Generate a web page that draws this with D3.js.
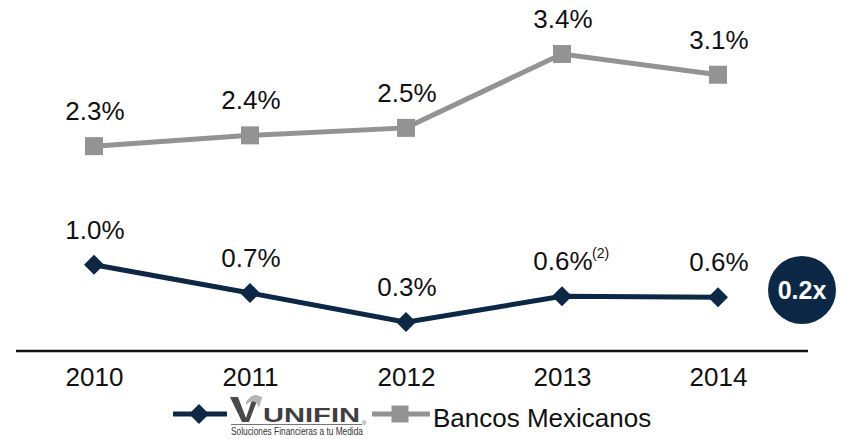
<!DOCTYPE html>
<html>
<head>
<meta charset="utf-8">
<script src="https://cdnjs.cloudflare.com/ajax/libs/d3/7.8.5/d3.min.js"></script>
<style>
  body { margin: 0; background: #fff; }
  text { font-family: Arial, "Liberation Sans", sans-serif; }
</style>
</head>
<body>
<div id="chart-area"></div>
<script>
// data
var years = ["2010", "2011", "2012", "2013", "2014"];
var unifin = [0.99, 0.65, 0.30, 0.61, 0.60];
var bancos = [2.42, 2.55, 2.64, 3.53, 3.28];
var unifinLabels = ["1.0%", "0.7%", "0.3%", "0.6%", "0.6%"];
var bancosLabels = ["2.3%", "2.4%", "2.5%", "3.4%", "3.1%"];

var width = 846, height = 439;
var navy = "#0c2846", grey = "#939393";

var svg = d3.select("#chart-area")
	.append("svg")
		.attr("width", width)
		.attr("height", height);

var x = d3.scalePoint()
	.domain(years)
	.range([94, 718]);

var y = d3.scaleLinear()
	.domain([0, 4])
	.range([347, 15]);

// baseline axis
var bottomAxis = d3.axisBottom(x).tickSize(0).tickPadding(17);
var ax = svg.append("g")
	.attr("class", "bottom axis")
	.attr("transform", "translate(0,351)")
	.call(bottomAxis);
ax.select(".domain").remove();
ax.append("line")
	.attr("x1", 16).attr("x2", 808)
	.attr("stroke", "#111").attr("stroke-width", 2.5);
ax.selectAll(".tick text")
	.attr("font-size", "26px")
	.attr("fill", "#111")
	.attr("font-family", "Arial, 'Liberation Sans', sans-serif");

var line = d3.line()
	.x(function(d, i){ return x(years[i]); })
	.y(function(d){ return y(d); });

// Bancos Mexicanos
svg.append("path")
	.datum(bancos)
	.attr("d", line)
	.attr("fill", "none")
	.attr("stroke", grey)
	.attr("stroke-width", 5);

svg.selectAll(".sq")
	.data(bancos)
	.enter().append("path")
		.attr("class", "sq")
		.attr("d", d3.symbol().type(d3.symbolSquare).size(324))
		.attr("transform", function(d, i){ return "translate(" + x(years[i]) + "," + y(d) + ")"; })
		.attr("fill", grey);

svg.selectAll(".blab")
	.data(bancos)
	.enter().append("text")
		.attr("class", "blab")
		.attr("x", function(d, i){ return x(years[i]) + 1; })
		.attr("y", function(d){ return y(d) - 26; })
		.attr("text-anchor", "middle")
		.attr("font-size", "26px")
		.attr("fill", "#111")
		.text(function(d, i){ return bancosLabels[i]; });

// Unifin
svg.append("path")
	.datum(unifin)
	.attr("d", line)
	.attr("fill", "none")
	.attr("stroke", navy)
	.attr("stroke-width", 5);

svg.selectAll(".dm")
	.data(unifin)
	.enter().append("path")
		.attr("class", "dm")
		.attr("d", d3.symbol().type(d3.symbolSquare).size(200))
		.attr("transform", function(d, i){ return "translate(" + x(years[i]) + "," + y(d) + ") rotate(45)"; })
		.attr("fill", navy);

var ulab = svg.selectAll(".ulab")
	.data(unifin)
	.enter().append("text")
		.attr("class", "ulab")
		.attr("x", function(d, i){ return x(years[i]) + 1; })
		.attr("y", function(d){ return y(d) - 26; })
		.attr("text-anchor", "middle")
		.attr("font-size", "26px")
		.attr("fill", "#111")
		.text(function(d, i){ return unifinLabels[i]; });

// footnote mark on 2013
svg.append("text")
	.attr("x", x("2013") + 30)
	.attr("y", y(unifin[3]) - 38)
	.attr("font-size", "14px")
	.attr("fill", "#111")
	.text("(2)");

// multiple bubble
svg.append("circle")
	.attr("cx", 802).attr("cy", 290).attr("r", 34)
	.attr("fill", navy);
svg.append("text")
	.attr("x", 802).attr("y", 299)
	.attr("text-anchor", "middle")
	.attr("font-size", "25px")
	.attr("font-weight", "bold")
	.attr("fill", "#fff")
	.text("0.2x");

// legend
var lg = svg.append("g").attr("class", "legend");
lg.append("line")
	.attr("x1", 173).attr("x2", 227).attr("y1", 414).attr("y2", 414)
	.attr("stroke", navy).attr("stroke-width", 5);
lg.append("path")
	.attr("d", d3.symbol().type(d3.symbolSquare).size(200))
	.attr("transform", "translate(199,414) rotate(45)")
	.attr("fill", navy);

// unifin logo, drawn roughly
lg.append("path")
	.attr("d", "M230,397 L238,397 L246,418 L252,400 C255,395 259,395 262,398 L258,398 L249,422 L242,422 Z")
	.attr("fill", "#4a4a4a");
lg.append("path")
	.attr("d", "M246,402 C251,394 257,393 262,398 L259,408 C257,401 252,399 246,405 Z")
	.attr("fill", "#b5b5b5");
lg.append("text")
	.attr("x", 263).attr("y", 422)
	.attr("font-family", "'DejaVu Sans', sans-serif")
	.attr("font-weight", "bold")
	.attr("font-size", "20px")
	.attr("textLength", 97)
	.attr("lengthAdjust", "spacingAndGlyphs")
	.attr("fill", "#3f3f3f")
	.text("UNIFIN");
lg.append("text")
	.attr("x", 362).attr("y", 425)
	.attr("font-size", "6px")
	.attr("fill", "#555")
	.text("\u00AE");
lg.append("line")
	.attr("x1", 231).attr("x2", 362).attr("y1", 424.5).attr("y2", 424.5)
	.attr("stroke", "#777").attr("stroke-width", 1);
lg.append("text")
	.attr("x", 231).attr("y", 435)
	.attr("font-family", "'Liberation Sans Narrow', 'DejaVu Sans Condensed', sans-serif")
	.attr("font-size", "10px")
	.attr("textLength", 132)
	.attr("lengthAdjust", "spacingAndGlyphs")
	.attr("fill", "#333")
	.text("Soluciones Financieras a tu Medida");

lg.append("line")
	.attr("x1", 372).attr("x2", 430).attr("y1", 414).attr("y2", 414)
	.attr("stroke", grey).attr("stroke-width", 5);
lg.append("path")
	.attr("d", d3.symbol().type(d3.symbolSquare).size(289))
	.attr("transform", "translate(400,414)")
	.attr("fill", grey);
lg.append("text")
	.attr("x", 433).attr("y", 427)
	.attr("font-size", "26px")
	.attr("fill", "#111")
	.text("Bancos Mexicanos");
</script>
</body>
</html>
